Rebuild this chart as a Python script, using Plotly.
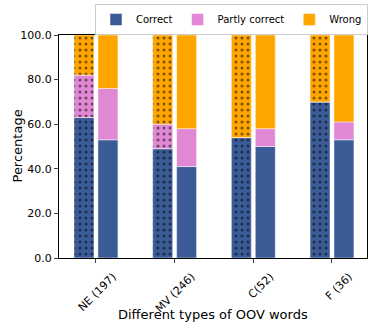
import plotly.graph_objects as go

categories = ["NE (197)", "MV (246)", "C(52)", "F (36)"]

# left (dotted) bars
dotted_correct = [63, 49, 54, 70]
dotted_partly = [19, 11, 0, 0]
dotted_wrong = [18, 40, 46, 30]

# right (plain) bars
plain_correct = [53, 41, 50, 53]
plain_partly = [23, 17, 8, 8]
plain_wrong = [24, 42, 42, 39]

series_names = ["Correct", "Partly correct", "Wrong"]
colors = ["#3a5b96", "#e088d4", "#ffa500"]

BAR_W = 0.254
GAP = 0.05


def add_stack(fig, parts, offset, dotted):
    base = [0] * len(categories)
    for name, vals, col in zip(series_names, parts, colors):
        marker = dict(color=col, line=dict(color="rgba(255,255,255,0.6)", width=0.8))
        if dotted:
            marker["pattern"] = dict(shape=".", fgcolor="black", bgcolor=col,
                                     size=6, solidity=0.2, fillmode="overlay")
        fig.add_trace(go.Bar(
            x=categories, y=vals, base=base, name=name,
            offset=offset, width=BAR_W, marker=marker,
            showlegend=not dotted, legendgroup=name,
        ))
        base = [b + v for b, v in zip(base, vals)]


fig = go.Figure()
add_stack(fig, [dotted_correct, dotted_partly, dotted_wrong], -BAR_W - GAP / 2, True)
add_stack(fig, [plain_correct, plain_partly, plain_wrong], GAP / 2, False)

# plot area: x 59..367, y 29..258 px
font = "DejaVu Sans"
fig.update_layout(
    width=374, height=330,
    margin=dict(l=59, r=7, t=29, b=72),
    barmode="overlay",
    plot_bgcolor="white", paper_bgcolor="white",
    font=dict(family=font, size=11, color="black"),
    legend=dict(orientation="h", xref="container", yref="container",
                x=368 / 374, xanchor="right", y=1 - 4 / 330, yanchor="top",
                bgcolor="white", bordercolor="#cccccc", borderwidth=1,
                font=dict(size=10), traceorder="normal", itemwidth=30),
    annotations=[
        dict(text="Different types of OOV words", xref="paper", yref="paper",
             x=0.5, y=(258 - 316) / 229, xanchor="center", yanchor="middle",
             showarrow=False, font=dict(size=13)),
        dict(text="Percentage", xref="paper", yref="paper",
             x=(17 - 59) / 308, y=0.5, xanchor="center", yanchor="middle",
             textangle=-90, showarrow=False, font=dict(size=13)),
    ],
)
fig.update_xaxes(
    range=[-0.47, 3.445], showline=True, linecolor="black", linewidth=1, mirror=True,
    ticks="outside", ticklen=4, tickangle=-45, showgrid=False, automargin=False,
    tickfont=dict(size=11), ticklabelshift=17, ticklabelstandoff=3,
)
fig.update_yaxes(
    range=[0, 100], tickvals=[0, 20, 40, 60, 80, 100], tickformat=".1f",
    showline=True, linecolor="black", linewidth=1, mirror=True, automargin=False,
    ticks="outside", ticklen=4, showgrid=False, zeroline=False,
    tickfont=dict(size=11),
)

fig.write_html("out.html", config={"displayModeBar": False},
               post_script="document.body.style.margin='0';")
